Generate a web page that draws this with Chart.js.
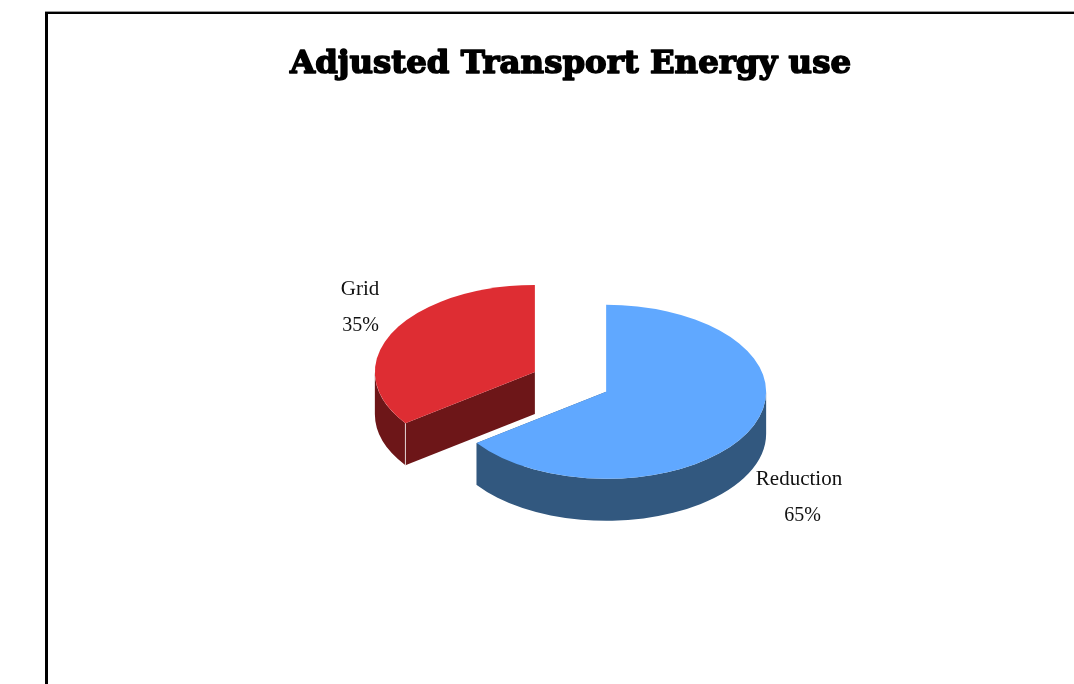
<!DOCTYPE html>
<html>
<head>
<meta charset="utf-8">
<title>Adjusted Transport Energy use</title>
<script src="https://cdn.jsdelivr.net/npm/chart.js@4"></script>
<style>
    html, body { margin: 0; padding: 0; background: #fff; overflow: hidden; }
    #frame { position: fixed; left: 45px; top: 12px; width: 2000px; height: 2000px; border: solid #000; border-width: 2px 3px 3px 3px; box-shadow: 0 -1px 0 #999; }
    #chart { position: fixed; left: 0; top: 0; }
</style>
</head>
<body>
<div id="frame"></div>
<canvas id="chart" width="1074" height="684"></canvas>
<script>
const titleText = 'Adjusted Transport Energy use';
const categories = ['Reduction', 'Grid'];
const shares = [65, 35];
const topColors = ['#60a8ff', '#de2d33'];
const sideColors = ['#32587f', '#6d1618'];

// look of the fake 3D pie
const tilt = 0.544;
const depth = 42;
const explode = 40;
const titleSize = 32.4;
const titleTop = 45;
const labelSpots = [
    { x: 799, y: 479, pctX: 802.5, pctY: 516 },
    { x: 360, y: 289, pctX: 360.5, pctY: 326 },
];

const pie3d = {
    id: 'pie3d',
    beforeDatasetsDraw(chart) {
        const ctx = chart.ctx;
        const arcs = chart.getDatasetMeta(0).data;

        // back slice first, so the front one can sit on top of it
        const order = arcs.map((a, i) => i).sort((p, q) => {
            const midP = (arcs[p].startAngle + arcs[p].endAngle) / 2;
            const midQ = (arcs[q].startAngle + arcs[q].endAngle) / 2;
            return Math.sin(midP) - Math.sin(midQ);
        });

        order.forEach(i => {
            const a = arcs[i];
            const r = a.outerRadius;
            const ry = r * tilt;
            const mid = (a.startAngle + a.endAngle) / 2;
            const cx = a.x + Math.cos(mid) * explode;
            const cy = a.y + Math.sin(mid) * explode * tilt;
            const rim = ang => [cx + Math.cos(ang) * r, cy + Math.sin(ang) * ry];

            // cut faces
            ctx.fillStyle = sideColors[i];
            [a.startAngle, a.endAngle].forEach(ang => {
                const [px, py] = rim(ang);
                ctx.beginPath();
                ctx.moveTo(cx, cy);
                ctx.lineTo(px, py);
                ctx.lineTo(px, py + depth);
                ctx.lineTo(cx, cy + depth);
                ctx.closePath();
                ctx.fill();
            });

            // outer wall, front half only
            const from = Math.max(a.startAngle, 0);
            const to = Math.min(a.endAngle, Math.PI);
            if (to > from) {
                ctx.beginPath();
                ctx.ellipse(cx, cy, r, ry, 0, from, to);
                ctx.ellipse(cx, cy + depth, r, ry, 0, to, from, true);
                ctx.closePath();
                ctx.fill();
            }

            // thin light seam where the wall meets a cut face
            if (a.startAngle > 0 && a.startAngle < Math.PI) {
                const [px, py] = rim(a.startAngle);
                ctx.strokeStyle = 'rgba(255,255,255,0.75)';
                ctx.lineWidth = 1;
                ctx.beginPath();
                ctx.moveTo(px, py);
                ctx.lineTo(px, py + depth);
                ctx.stroke();
            }

            // top face
            ctx.fillStyle = topColors[i];
            ctx.beginPath();
            ctx.moveTo(cx, cy);
            ctx.ellipse(cx, cy, r, ry, 0, a.startAngle, a.endAngle);
            ctx.closePath();
            ctx.fill();
        });

        // slice labels
        ctx.fillStyle = '#111';
        ctx.textAlign = 'center';
        ctx.textBaseline = 'middle';
        categories.forEach((name, i) => {
            const spot = labelSpots[i];
            ctx.font = '21px "Liberation Serif"';
            ctx.fillText(name, spot.x, spot.y);
            ctx.font = '20px "Liberation Serif"';
            ctx.fillText(shares[i] + '%', spot.pctX, spot.pctY);
        });

        return false;
    },
    afterDraw(chart) {
        // the reference title is much heavier than DejaVu bold, so thicken it
        const ctx = chart.ctx;
        const box = chart.titleBlock;
        ctx.save();
        ctx.font = 'bold ' + titleSize + 'px "DejaVu Serif"';
        ctx.textAlign = 'center';
        ctx.textBaseline = 'middle';
        ctx.strokeStyle = '#000';
        ctx.lineWidth = 1.6;
        ctx.lineJoin = 'round';
        ctx.strokeText(titleText, (box.left + box.right) / 2, box.top + titleTop + titleSize * 0.6);
        ctx.restore();
    }
};

new Chart(document.getElementById('chart'), {
    type: 'pie',
    data: {
        labels: categories,
        datasets: [{ data: shares, backgroundColor: topColors, borderWidth: 0 }]
    },
    options: {
        responsive: false,
        animation: false,
        radius: 160,
        layout: { padding: { left: 67, right: 0, top: 0, bottom: 4 } },
        plugins: {
            legend: { display: false },
            tooltip: { enabled: false },
            title: {
                display: true,
                text: titleText,
                color: '#000',
                font: { family: 'DejaVu Serif', size: titleSize, weight: 'bold' },
                padding: { top: titleTop, bottom: 0 }
            }
        }
    },
    plugins: [pie3d]
});
</script>
</body>
</html>
